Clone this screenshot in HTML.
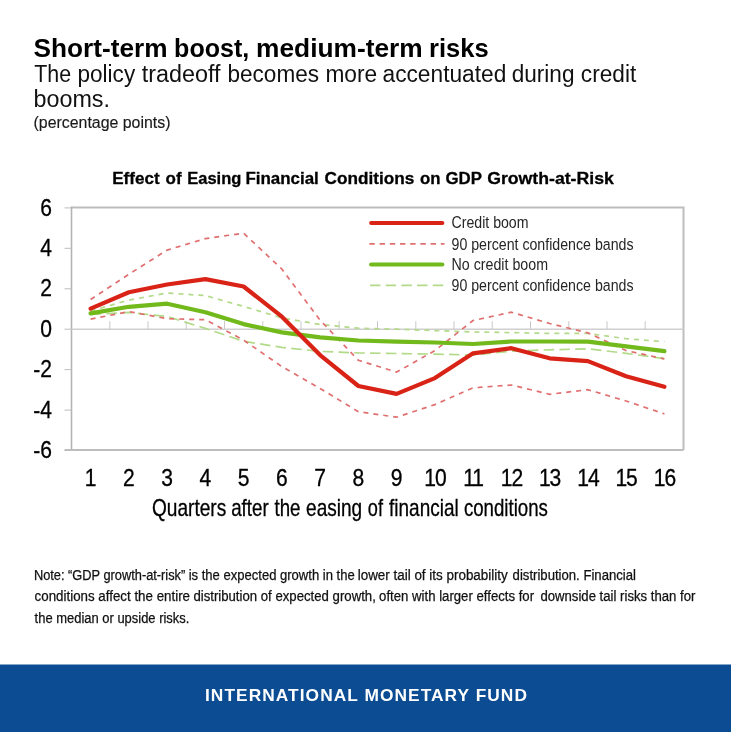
<!DOCTYPE html>
<html><head><meta charset="utf-8"><title>Short-term boost, medium-term risks</title>
<style>
html,body{margin:0;padding:0;background:#fff;}
body{width:731px;height:732px;overflow:hidden;}
svg{display:block;}
text{white-space:pre;}
</style></head>
<body>
<svg width="731" height="732" viewBox="0 0 731 732">
<rect width="731" height="732" fill="#fff"/>
<text y="57.2" font-family="Liberation Sans, sans-serif" font-weight="bold" font-size="26" fill="#000"><tspan x="33.5" textLength="134.02" lengthAdjust="spacingAndGlyphs">Short-term</tspan> <tspan x="174.1" textLength="75.21" lengthAdjust="spacingAndGlyphs">boost,</tspan> <tspan x="256.1" textLength="166.56" lengthAdjust="spacingAndGlyphs">medium-term</tspan> <tspan x="429.0" textLength="59.66" lengthAdjust="spacingAndGlyphs">risks</tspan></text>
<text y="81.8" font-family="Liberation Sans, sans-serif" font-size="23" fill="#111"><tspan x="34.3" textLength="36.85" lengthAdjust="spacingAndGlyphs">The</tspan> <tspan x="77.5" textLength="57.67" lengthAdjust="spacingAndGlyphs">policy</tspan> <tspan x="141.8" textLength="78.80" lengthAdjust="spacingAndGlyphs">tradeoff</tspan> <tspan x="227.5" textLength="91.47" lengthAdjust="spacingAndGlyphs">becomes</tspan> <tspan x="325.4" textLength="51.74" lengthAdjust="spacingAndGlyphs">more</tspan> <tspan x="382.5" textLength="123.82" lengthAdjust="spacingAndGlyphs">accentuated</tspan> <tspan x="511.7" textLength="62.81" lengthAdjust="spacingAndGlyphs">during</tspan> <tspan x="580.8" textLength="55.44" lengthAdjust="spacingAndGlyphs">credit</tspan></text>
<text x="33.5" y="107" font-family="Liberation Sans, sans-serif" font-size="23" textLength="76.5" lengthAdjust="spacingAndGlyphs" fill="#111">booms.</text>
<text x="33.5" y="128.4" font-family="Liberation Sans, sans-serif" font-size="16" textLength="137" lengthAdjust="spacingAndGlyphs" fill="#1a1a1a" stroke="#1a1a1a" stroke-width="0.15">(percentage points)</text>
<text y="184" font-family="Liberation Sans, sans-serif" font-weight="bold" font-size="17.2" fill="#000" stroke="#000" stroke-width="0.3"><tspan x="112.2" textLength="47.42" lengthAdjust="spacingAndGlyphs">Effect</tspan> <tspan x="165.6" textLength="16.00" lengthAdjust="spacingAndGlyphs">of</tspan> <tspan x="187.2" textLength="54.12" lengthAdjust="spacingAndGlyphs">Easing</tspan> <tspan x="245.4" textLength="73.43" lengthAdjust="spacingAndGlyphs">Financial</tspan> <tspan x="324.6" textLength="89.61" lengthAdjust="spacingAndGlyphs">Conditions</tspan> <tspan x="420.0" textLength="20.48" lengthAdjust="spacingAndGlyphs">on</tspan> <tspan x="445.4" textLength="36.21" lengthAdjust="spacingAndGlyphs">GDP</tspan> <tspan x="487.2" textLength="126.60" lengthAdjust="spacingAndGlyphs">Growth-at-Risk</tspan></text>
<g>
<g fill="none" stroke="#bdbdbd">
<path d="M71.5,207.5 H683.5 V450.0" stroke-width="2"/>
<path d="M71.5,206.5 V450.0" stroke-width="1.6" stroke="#b4b4b4"/>
<path d="M64.5,450.0 H683.5" stroke-width="2" stroke="#bdbdbd"/>
<path d="M64.5,450.5 H71.5" stroke-width="1"/>
<path d="M64.5,410.1 H71.5" stroke-width="1"/>
<path d="M64.5,369.6 H71.5" stroke-width="1"/>
<path d="M64.5,329.2 H71.5" stroke-width="1"/>
<path d="M64.5,288.8 H71.5" stroke-width="1"/>
<path d="M64.5,248.3 H71.5" stroke-width="1"/>
<path d="M64.5,207.9 H71.5" stroke-width="1"/>
<path d="M71.5,329.2 H683.5" stroke-width="1.4" stroke="#cfcfcf"/>
<path d="M109.8,321.2 V329.2" stroke-width="1" stroke="#c8c8c8"/>
<path d="M148.0,321.2 V329.2" stroke-width="1" stroke="#c8c8c8"/>
<path d="M186.2,321.2 V329.2" stroke-width="1" stroke="#c8c8c8"/>
<path d="M224.5,321.2 V329.2" stroke-width="1" stroke="#c8c8c8"/>
<path d="M262.8,321.2 V329.2" stroke-width="1" stroke="#c8c8c8"/>
<path d="M301.0,321.2 V329.2" stroke-width="1" stroke="#c8c8c8"/>
<path d="M339.2,321.2 V329.2" stroke-width="1" stroke="#c8c8c8"/>
<path d="M377.5,321.2 V329.2" stroke-width="1" stroke="#c8c8c8"/>
<path d="M415.8,321.2 V329.2" stroke-width="1" stroke="#c8c8c8"/>
<path d="M454.0,321.2 V329.2" stroke-width="1" stroke="#c8c8c8"/>
<path d="M492.2,321.2 V329.2" stroke-width="1" stroke="#c8c8c8"/>
<path d="M530.5,321.2 V329.2" stroke-width="1" stroke="#c8c8c8"/>
<path d="M568.8,321.2 V329.2" stroke-width="1" stroke="#c8c8c8"/>
<path d="M607.0,321.2 V329.2" stroke-width="1" stroke="#c8c8c8"/>
<path d="M645.2,321.2 V329.2" stroke-width="1" stroke="#c8c8c8"/>
</g>
<g fill="none" stroke-linejoin="round">
<polyline points="90.6,314.4 128.9,312.4 167.1,316.5 205.4,328.4 243.6,341.3 281.9,347.4 320.1,351.4 358.4,352.9 396.6,353.5 434.9,354.1 473.1,355.1 511.4,351.2 549.6,349.8 587.9,348.8 626.1,353.3 664.4,358.7" stroke="#b2da88" stroke-width="1.7" stroke-dasharray="10.5 5.3"/>
<polyline points="90.6,311.0 128.9,300.1 167.1,293.0 205.4,295.6 243.6,306.4 281.9,317.9 320.1,324.5 358.4,328.2 396.6,329.2 434.9,330.6 473.1,332.0 511.4,332.6 549.6,333.4 587.9,333.4 626.1,338.7 664.4,341.7" stroke="#b2da88" stroke-width="1.7" stroke-dasharray="5 5"/>
<polyline points="90.6,299.5 128.9,274.2 167.1,250.1 205.4,238.6 243.6,233.2 281.9,269.1 320.1,320.1 358.4,360.3 396.6,372.1 434.9,350.6 473.1,320.5 511.4,312.2 549.6,323.5 587.9,332.8 626.1,350.6 664.4,358.9" stroke="#e07070" stroke-width="1.7" stroke-dasharray="5 5"/>
<polyline points="90.6,319.1 128.9,311.6 167.1,318.7 205.4,319.7 243.6,340.1 281.9,366.6 320.1,388.4 358.4,411.7 396.6,417.2 434.9,404.6 473.1,387.8 511.4,385.0 549.6,394.3 587.9,389.7 626.1,401.0 664.4,413.9" stroke="#e07070" stroke-width="1.7" stroke-dasharray="5 5"/>
<polyline points="90.6,313.4 128.9,306.8 167.1,303.7 205.4,312.2 243.6,324.1 281.9,332.4 320.1,337.3 358.4,340.5 396.6,341.7 434.9,342.5 473.1,344.0 511.4,341.5 549.6,341.5 587.9,341.7 626.1,346.4 664.4,351.2" stroke="#72b91c" stroke-width="4.2" stroke-linecap="round"/>
<polyline points="90.6,308.6 128.9,292.2 167.1,284.5 205.4,279.1 243.6,286.5 281.9,316.7 320.1,355.1 358.4,386.0 396.6,393.9 434.9,378.1 473.1,353.3 511.4,348.2 549.6,358.3 587.9,361.1 626.1,376.3 664.4,386.8" stroke="#d92316" stroke-width="4.2" stroke-linecap="round"/>
</g>
<g fill="none">
<path d="M371.2,223 H442.3" stroke="#d92316" stroke-width="4.2" stroke-linecap="round"/>
<path d="M369.4,243.8 H444.5" stroke="#e07070" stroke-width="1.7" stroke-dasharray="5.4 4.8"/>
<path d="M371.2,264.5 H442.3" stroke="#72b91c" stroke-width="4.2" stroke-linecap="round"/>
<path d="M370.0,285.3 H444.5" stroke="#b2da88" stroke-width="1.7" stroke-dasharray="10.4 5.3"/>
</g>
<text x="451.5" y="228.3" font-family="Liberation Sans, sans-serif" font-size="16.8" textLength="77" lengthAdjust="spacingAndGlyphs" fill="#262626">Credit boom</text>
<text x="451.5" y="249.5" font-family="Liberation Sans, sans-serif" font-size="16.8" textLength="182" lengthAdjust="spacingAndGlyphs" fill="#262626">90 percent confidence bands</text>
<text x="451.5" y="269.6" font-family="Liberation Sans, sans-serif" font-size="16.8" textLength="96.5" lengthAdjust="spacingAndGlyphs" fill="#262626">No credit boom</text>
<text x="451.5" y="290.9" font-family="Liberation Sans, sans-serif" font-size="16.8" textLength="182" lengthAdjust="spacingAndGlyphs" fill="#262626">90 percent confidence bands</text>
<text x="52" y="458.2" font-family="Liberation Sans, sans-serif" font-size="23.4" text-anchor="end" transform="translate(52,0) scale(0.9,1) translate(-52,0)" fill="#000" stroke="#000" stroke-width="0.3">-6</text>
<text x="52" y="417.8" font-family="Liberation Sans, sans-serif" font-size="23.4" text-anchor="end" transform="translate(52,0) scale(0.9,1) translate(-52,0)" fill="#000" stroke="#000" stroke-width="0.3">-4</text>
<text x="52" y="377.3" font-family="Liberation Sans, sans-serif" font-size="23.4" text-anchor="end" transform="translate(52,0) scale(0.9,1) translate(-52,0)" fill="#000" stroke="#000" stroke-width="0.3">-2</text>
<text x="52" y="336.9" font-family="Liberation Sans, sans-serif" font-size="23.4" text-anchor="end" transform="translate(52,0) scale(0.9,1) translate(-52,0)" fill="#000" stroke="#000" stroke-width="0.3">0</text>
<text x="52" y="296.5" font-family="Liberation Sans, sans-serif" font-size="23.4" text-anchor="end" transform="translate(52,0) scale(0.9,1) translate(-52,0)" fill="#000" stroke="#000" stroke-width="0.3">2</text>
<text x="52" y="256.0" font-family="Liberation Sans, sans-serif" font-size="23.4" text-anchor="end" transform="translate(52,0) scale(0.9,1) translate(-52,0)" fill="#000" stroke="#000" stroke-width="0.3">4</text>
<text x="52" y="215.6" font-family="Liberation Sans, sans-serif" font-size="23.4" text-anchor="end" transform="translate(52,0) scale(0.9,1) translate(-52,0)" fill="#000" stroke="#000" stroke-width="0.3">6</text>
<text x="90.6" y="486" font-family="Liberation Sans, sans-serif" font-size="23.4" text-anchor="middle" letter-spacing="0" transform="translate(90.6,0) scale(0.9,1) translate(-90.6,0)" fill="#000" stroke="#000" stroke-width="0.3">1</text>
<text x="128.9" y="486" font-family="Liberation Sans, sans-serif" font-size="23.4" text-anchor="middle" letter-spacing="0" transform="translate(128.9,0) scale(0.9,1) translate(-128.9,0)" fill="#000" stroke="#000" stroke-width="0.3">2</text>
<text x="167.1" y="486" font-family="Liberation Sans, sans-serif" font-size="23.4" text-anchor="middle" letter-spacing="0" transform="translate(167.1,0) scale(0.9,1) translate(-167.1,0)" fill="#000" stroke="#000" stroke-width="0.3">3</text>
<text x="205.4" y="486" font-family="Liberation Sans, sans-serif" font-size="23.4" text-anchor="middle" letter-spacing="0" transform="translate(205.4,0) scale(0.9,1) translate(-205.4,0)" fill="#000" stroke="#000" stroke-width="0.3">4</text>
<text x="243.6" y="486" font-family="Liberation Sans, sans-serif" font-size="23.4" text-anchor="middle" letter-spacing="0" transform="translate(243.6,0) scale(0.9,1) translate(-243.6,0)" fill="#000" stroke="#000" stroke-width="0.3">5</text>
<text x="281.9" y="486" font-family="Liberation Sans, sans-serif" font-size="23.4" text-anchor="middle" letter-spacing="0" transform="translate(281.9,0) scale(0.9,1) translate(-281.9,0)" fill="#000" stroke="#000" stroke-width="0.3">6</text>
<text x="320.1" y="486" font-family="Liberation Sans, sans-serif" font-size="23.4" text-anchor="middle" letter-spacing="0" transform="translate(320.1,0) scale(0.9,1) translate(-320.1,0)" fill="#000" stroke="#000" stroke-width="0.3">7</text>
<text x="358.4" y="486" font-family="Liberation Sans, sans-serif" font-size="23.4" text-anchor="middle" letter-spacing="0" transform="translate(358.4,0) scale(0.9,1) translate(-358.4,0)" fill="#000" stroke="#000" stroke-width="0.3">8</text>
<text x="396.6" y="486" font-family="Liberation Sans, sans-serif" font-size="23.4" text-anchor="middle" letter-spacing="0" transform="translate(396.6,0) scale(0.9,1) translate(-396.6,0)" fill="#000" stroke="#000" stroke-width="0.3">9</text>
<text x="434.9" y="486" font-family="Liberation Sans, sans-serif" font-size="23.4" text-anchor="middle" letter-spacing="-1.2" transform="translate(434.9,0) scale(0.9,1) translate(-434.9,0)" fill="#000" stroke="#000" stroke-width="0.3">10</text>
<text x="473.1" y="486" font-family="Liberation Sans, sans-serif" font-size="23.4" text-anchor="middle" letter-spacing="-1.2" transform="translate(473.1,0) scale(0.9,1) translate(-473.1,0)" fill="#000" stroke="#000" stroke-width="0.3">11</text>
<text x="511.4" y="486" font-family="Liberation Sans, sans-serif" font-size="23.4" text-anchor="middle" letter-spacing="-1.2" transform="translate(511.4,0) scale(0.9,1) translate(-511.4,0)" fill="#000" stroke="#000" stroke-width="0.3">12</text>
<text x="549.6" y="486" font-family="Liberation Sans, sans-serif" font-size="23.4" text-anchor="middle" letter-spacing="-1.2" transform="translate(549.6,0) scale(0.9,1) translate(-549.6,0)" fill="#000" stroke="#000" stroke-width="0.3">13</text>
<text x="587.9" y="486" font-family="Liberation Sans, sans-serif" font-size="23.4" text-anchor="middle" letter-spacing="-1.2" transform="translate(587.9,0) scale(0.9,1) translate(-587.9,0)" fill="#000" stroke="#000" stroke-width="0.3">14</text>
<text x="626.1" y="486" font-family="Liberation Sans, sans-serif" font-size="23.4" text-anchor="middle" letter-spacing="-1.2" transform="translate(626.1,0) scale(0.9,1) translate(-626.1,0)" fill="#000" stroke="#000" stroke-width="0.3">15</text>
<text x="664.4" y="486" font-family="Liberation Sans, sans-serif" font-size="23.4" text-anchor="middle" letter-spacing="-1.2" transform="translate(664.4,0) scale(0.9,1) translate(-664.4,0)" fill="#000" stroke="#000" stroke-width="0.3">16</text>
<text y="515.5" font-family="Liberation Sans, sans-serif" font-size="23.6" fill="#000" stroke="#000" stroke-width="0.3"><tspan x="151.9" textLength="74.36" lengthAdjust="spacingAndGlyphs">Quarters</tspan> <tspan x="231.2" textLength="37.42" lengthAdjust="spacingAndGlyphs">after</tspan> <tspan x="274.5" textLength="26.00" lengthAdjust="spacingAndGlyphs">the</tspan> <tspan x="306.1" textLength="56.08" lengthAdjust="spacingAndGlyphs">easing</tspan> <tspan x="367.8" textLength="15.14" lengthAdjust="spacingAndGlyphs">of</tspan> <tspan x="389.1" textLength="69.58" lengthAdjust="spacingAndGlyphs">financial</tspan> <tspan x="463.9" textLength="84.00" lengthAdjust="spacingAndGlyphs">conditions</tspan></text>
</g>
<text y="579.8" font-family="Liberation Sans, sans-serif" font-size="13.8" fill="#111" stroke="#111" stroke-width="0.25"><tspan x="33.9" textLength="151.40" lengthAdjust="spacingAndGlyphs">Note: “GDP growth-at-risk”</tspan> <tspan x="188.7" textLength="166.00" lengthAdjust="spacingAndGlyphs">is the expected growth in the</tspan> <tspan x="357.7" textLength="149.99" lengthAdjust="spacingAndGlyphs">lower tail of its probability</tspan> <tspan x="512.6" textLength="123.40" lengthAdjust="spacingAndGlyphs">distribution. Financial</tspan></text>
<text y="601.3" font-family="Liberation Sans, sans-serif" font-size="13.8" fill="#111" stroke="#111" stroke-width="0.25"><tspan x="34.6" textLength="155.40" lengthAdjust="spacingAndGlyphs">conditions affect the entire</tspan> <tspan x="193.4" textLength="182.41" lengthAdjust="spacingAndGlyphs">distribution of expected growth,</tspan> <tspan x="379.1" textLength="155.00" lengthAdjust="spacingAndGlyphs">often with larger effects for</tspan> <tspan x="540.4" textLength="155.00" lengthAdjust="spacingAndGlyphs">downside tail risks than for</tspan></text>
<text y="622.8" font-family="Liberation Sans, sans-serif" font-size="13.8" fill="#111" stroke="#111" stroke-width="0.25"><tspan x="34.6" textLength="154.79" lengthAdjust="spacingAndGlyphs">the median or upside risks.</tspan></text>
<rect x="0" y="664.5" width="731" height="67.5" fill="#0b4c93"/>
<text x="205" y="701.2" font-family="Liberation Sans, sans-serif" font-weight="bold" font-size="16.5" textLength="323" lengthAdjust="spacingAndGlyphs" letter-spacing="1.0" fill="#fff">INTERNATIONAL MONETARY FUND</text>
</svg>
</body></html>
